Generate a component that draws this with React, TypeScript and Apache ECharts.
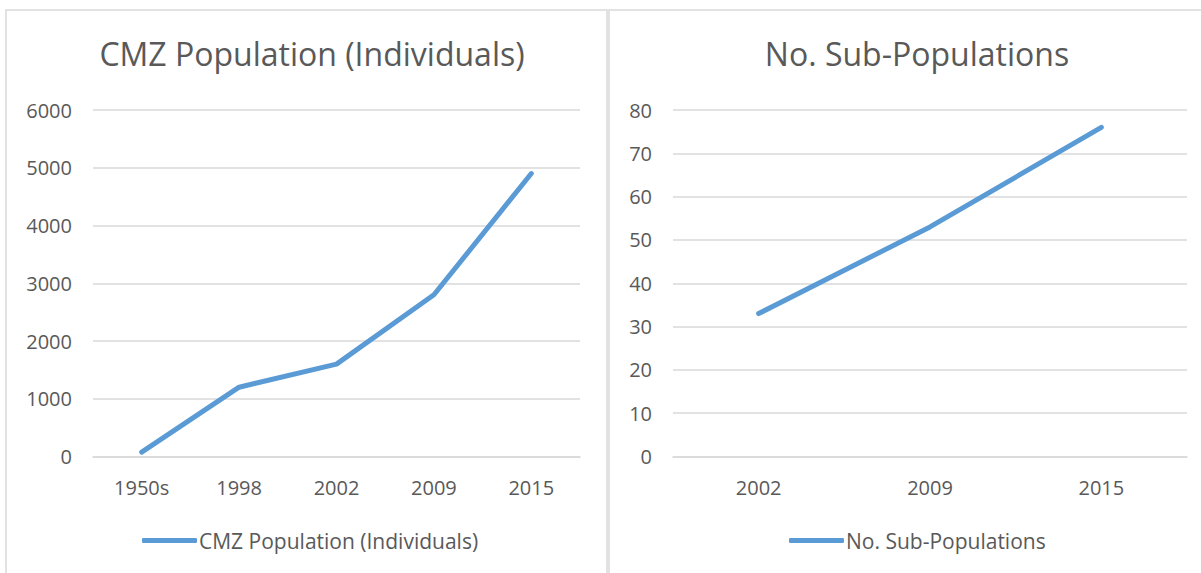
import React, { useEffect, useRef } from "react";
import * as echarts from "echarts";

const popCategories = ["1950s", "1998", "2002", "2009", "2015"];
const popValues = [75, 1200, 1600, 2800, 4900];
const subCategories = ["2002", "2009", "2015"];
const subValues = [33, 53, 76];
const popTitle = "CMZ Population (Individuals)";
const subTitle = "No. Sub-Populations";

const FONT = "Open Sans";
const TXT = "#595959";
const GRID = "#D9D9D9";
const BLUE = "#5B9BD5";

export default function App() {
  const ref = useRef<HTMLDivElement>(null);
  useEffect(() => {
    const chart = echarts.init(ref.current!, undefined, { renderer: "svg" });
    const axisLabel = { color: TXT, fontFamily: FONT, fontSize: 20 };
    const titleStyle = { color: TXT, fontFamily: FONT, fontSize: 32, fontWeight: "normal" };
    const legendText = { color: TXT, fontFamily: FONT, fontSize: 21, padding: [0, 0, 0, -3] };
    chart.setOption({
      animation: false,
      backgroundColor: "#fff",
      title: [
        { text: popTitle, left: 307, top: 32, textAlign: "center", textStyle: titleStyle },
        { text: subTitle, left: 912, top: 32, textAlign: "center", textStyle: titleStyle },
      ],
      legend: [
        { data: [popTitle], left: 137, top: 525, icon: "roundRect", itemWidth: 55, itemHeight: 5, itemGap: 0, textStyle: legendText },
        { data: [subTitle], left: 784, top: 525, icon: "roundRect", itemWidth: 55, itemHeight: 5, itemGap: 0, textStyle: legendText },
      ],
      grid: [
        { left: 93, right: 621, top: 110, bottom: 116.5 },
        { left: 673, right: 14, top: 110, bottom: 116.5 },
      ],
      xAxis: [
        { type: "category", gridIndex: 0, data: popCategories, boundaryGap: true, axisTick: { show: false }, axisLine: { lineStyle: { color: GRID, width: 1.5 } }, axisLabel: { ...axisLabel, margin: 21 } },
        { type: "category", gridIndex: 1, data: subCategories, boundaryGap: true, axisTick: { show: false }, axisLine: { lineStyle: { color: GRID, width: 1.5 } }, axisLabel: { ...axisLabel, margin: 21 } },
      ],
      yAxis: [
        { type: "value", gridIndex: 0, min: 0, max: 6000, interval: 1000, axisLine: { show: false }, axisTick: { show: false }, splitLine: { lineStyle: { color: GRID, width: 1.5 } }, axisLabel: { ...axisLabel, margin: 21, formatter: (v: number) => String(v) } },
        { type: "value", gridIndex: 1, min: 0, max: 80, interval: 10, axisLine: { show: false }, axisTick: { show: false }, splitLine: { lineStyle: { color: GRID, width: 1.5 } }, axisLabel: { ...axisLabel, margin: 21, formatter: (v: number) => String(v) } },
      ],
      series: [
        { name: popTitle, type: "line", xAxisIndex: 0, yAxisIndex: 0, data: popValues, showSymbol: false, symbol: "none", lineStyle: { color: BLUE, width: 5, cap: "round", join: "round" }, itemStyle: { color: BLUE } },
        { name: subTitle, type: "line", xAxisIndex: 1, yAxisIndex: 1, data: subValues, showSymbol: false, symbol: "none", lineStyle: { color: BLUE, width: 5, cap: "round", join: "round" }, itemStyle: { color: BLUE } },
      ],
      graphic: [
        { type: "rect", shape: { x: 6, y: 10, width: 601, height: 600 }, style: { fill: "none", stroke: GRID, lineWidth: 1.5 }, silent: true },
        { type: "rect", shape: { x: 609, y: 10, width: 600, height: 600 }, style: { fill: "none", stroke: GRID, lineWidth: 1.5 }, silent: true },
      ],
    });
    return () => chart.dispose();
  }, []);
  return <div ref={ref} style={{ position: "fixed", left: 0, top: 0, width: 1201, height: 573 }} />;
}
